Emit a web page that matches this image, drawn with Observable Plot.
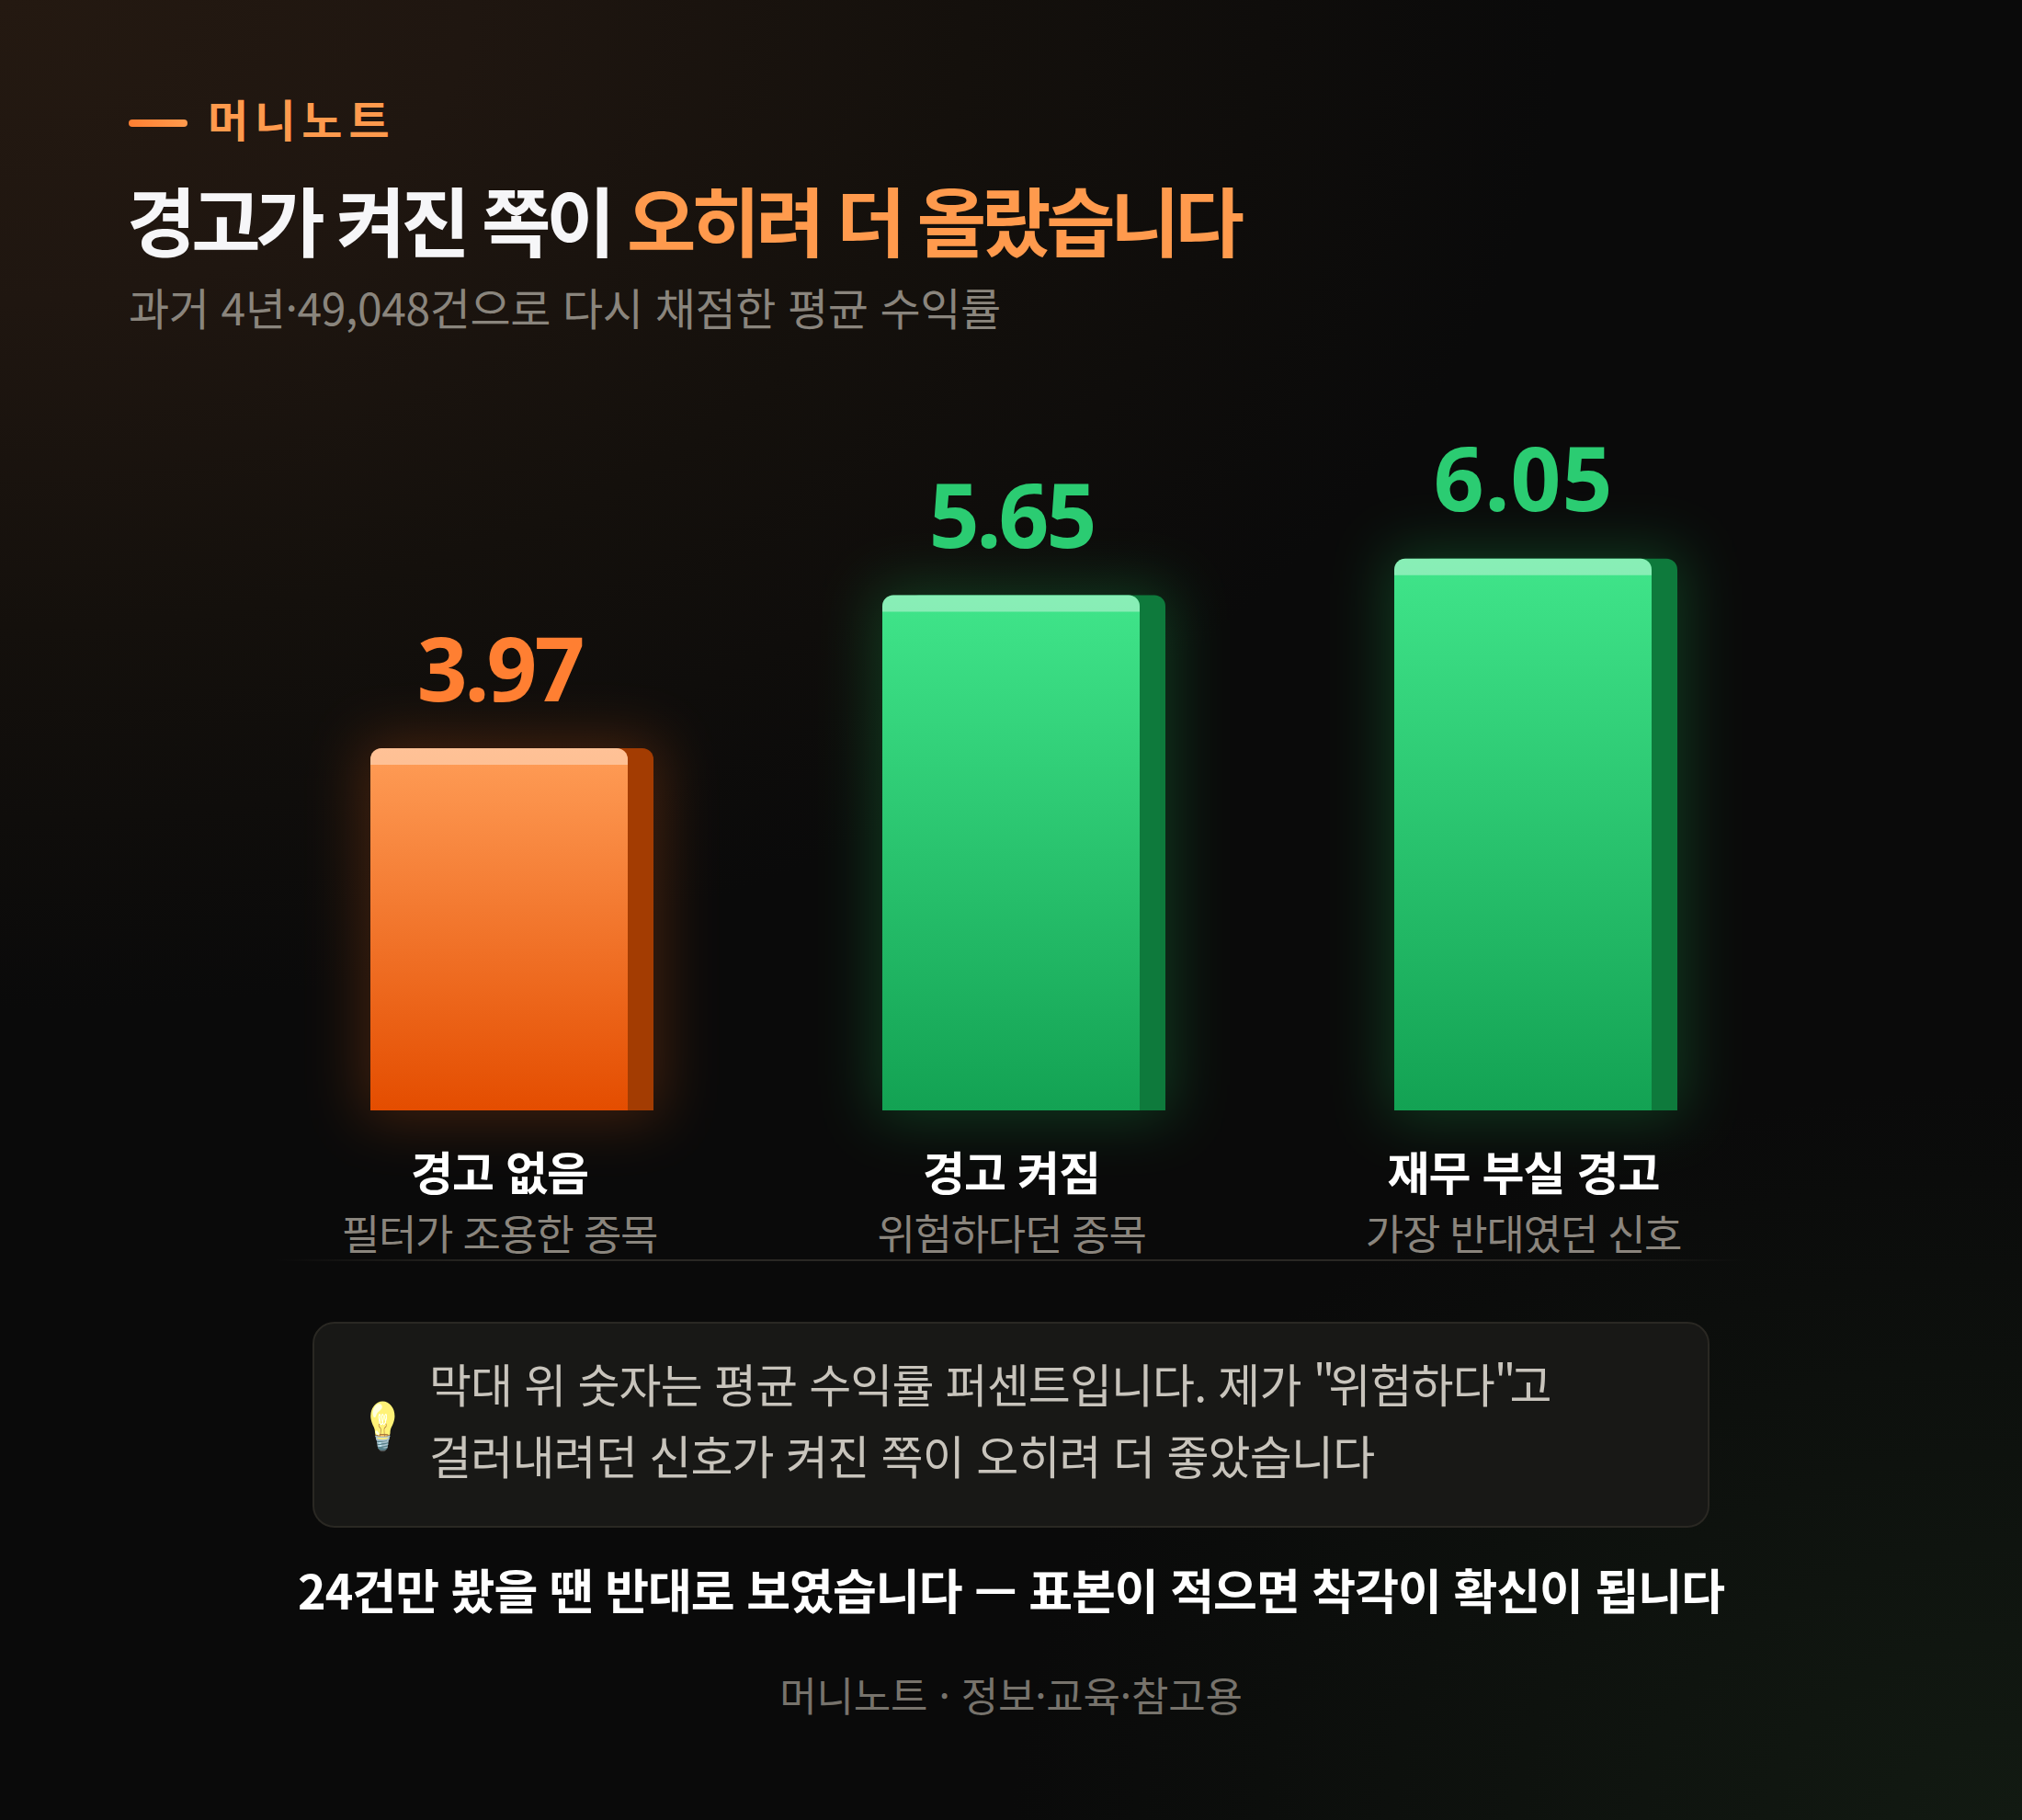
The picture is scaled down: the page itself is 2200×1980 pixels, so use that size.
<!DOCTYPE html>
<html lang="ko"><head><meta charset="utf-8">
<script src="https://cdn.jsdelivr.net/npm/d3@7"></script>
<script src="https://cdn.jsdelivr.net/npm/@observablehq/plot@0.6"></script>
<style>
html,body{margin:0;padding:0;background:#0a0a0a}
#page{position:relative;width:2200px;height:1980px;overflow:hidden;font-family:"Noto Sans CJK KR","Noto Sans",sans-serif;
background:radial-gradient(ellipse 1700px 1100px at 0px 0px,#241911 0%,#1f1610 30%,#14100c 62%,rgba(10,10,10,0) 100%),radial-gradient(ellipse 1100px 800px at 2200px 1980px,#121a12 0%,rgba(10,10,10,0) 100%),#0a0a0a}
.t{position:absolute;white-space:nowrap;line-height:1}
#chart{position:absolute;left:0;top:440px}
#chart svg{overflow:visible;background:transparent;display:block}
.q{letter-spacing:-7px}
</style></head><body><div id="page">
<div class="t" style="left:140px;top:130px;width:64px;height:8px;border-radius:4px;background:linear-gradient(90deg,#ff7f32,#ff9a4d)"></div>
<div class="t" style="left:226px;top:104px;font-size:48px;font-weight:700;letter-spacing:7px;color:#ff9a4d">머니노트</div>
<div class="t" style="left:138px;top:197px;font-size:82px;font-weight:700;letter-spacing:-5.3px;color:#f6f6f8">경고가 켜진 쪽이 <span style="color:#ff9a4d">오히려 더 올랐습니다</span></div>
<div class="t" style="left:140px;top:309px;font-size:48px;font-weight:400;letter-spacing:-.4px;color:#8a857d">과거 4년·49,048건으로 다시 채점한 평균 수익률</div>
<div id="chart"></div>
<div class="t" style="left:300px;top:1370px;width:1600px;height:2px;background:linear-gradient(90deg,rgba(42,40,36,0),#2a2824 15%,#2a2824 85%,rgba(42,40,36,0))"></div>
<div class="t" style="left:340px;top:1438px;width:1520px;height:224px;box-sizing:border-box;border:2px solid #2a2823;border-radius:24px;background:#181816"></div>
<div class="t" style="left:385px;top:1518px;font-size:50px;line-height:58px;transform:scaleX(.75);filter:saturate(.5) brightness(1.15)">💡</div>
<div class="t" style="left:467px;top:1479px;font-size:50px;letter-spacing:-.9px;color:#c8c4bc">막대 위 숫자는 평균 수익률 퍼센트입니다. 제가 <span class="q">"</span>위험하다<span class="q">"</span>고</div>
<div class="t" style="left:467px;top:1557px;font-size:50px;letter-spacing:-.8px;color:#c8c4bc">걸러내려던 신호가 켜진 쪽이 오히려 더 좋았습니다</div>
<div class="t" style="left:0;width:2200px;text-align:center;top:1703px;font-size:52px;font-weight:700;letter-spacing:-1px;color:#fff">24건만 봤을 땐 반대로 보였습니다 — 표본이 적으면 착각이 확신이 됩니다</div>
<div class="t" style="left:0;width:2200px;text-align:center;top:1821px;font-size:44px;letter-spacing:-.2px;color:#77736c">머니노트 · 정보·교육·참고용</div>
</div>
<script>
const categories = ["경고 없음", "경고 켜짐", "재무 부실 경고"];
const notes = ["필터가 조용한 종목", "위험하다던 종목", "가장 반대였던 신호"];
const values = [3.97, 5.65, 6.05];
const labelColors = ["#ff7f32", "#2bcc72", "#2bcc72"];
const sideColors = ["#a33c02", "#0e7a3c", "#0e7a3c"];
const glowColors = ["#e8641a", "#22c55e", "#22c55e"];
const fronts = ["url(#gradOrange)", "url(#gradGreen)", "url(#gradGreen)"];
const rows = categories.map((name, i) => ({name, note: notes[i], value: values[i], label: labelColors[i], side: sideColors[i], glow: glowColors[i], front: fronts[i]}));

const defs = () => {
  const ns = "http://www.w3.org/2000/svg";
  const d = document.createElementNS(ns, "defs");
  d.innerHTML = `<linearGradient id="gradOrange" x1="0" y1="0" x2="0" y2="1"><stop offset="0" stop-color="#ff9d57"/><stop offset="1" stop-color="#e44d00"/></linearGradient>
  <linearGradient id="gradGreen" x1="0" y1="0" x2="0" y2="1"><stop offset="0" stop-color="#40e58a"/><stop offset="1" stop-color="#13a253"/></linearGradient>`;
  return d;
};
const base = {x: "name", y: "value"};
const plot = Plot.plot({
  width: 2200, height: 930, marginTop: 0, marginBottom: 162, marginLeft: 403, marginRight: 403,
  x: {domain: categories, paddingInner: 0.4973, paddingOuter: 0, axis: null, round: false},
  y: {domain: [0, 7.74], axis: null},
  style: {background: "transparent", fontFamily: '"Noto Sans CJK KR","Noto Sans",sans-serif'},
  marks: [
    defs,
    Plot.barY(rows, {...base, fill: "glow", insetRight: -36, insetLeft: -8, insetTop: -8, insetBottom: -8, className: "glow"}),
    Plot.barY(rows, {...base, fill: "side", dx: 28, ry1: 12}),
    Plot.barY(rows, {...base, fill: "front", ry1: 12}),
    Plot.barY(rows, {x: "name", y1: "value", y2: "value", insetBottom: -18, fill: "#fff", fillOpacity: 0.38, ry1: 12}),
    Plot.text(rows, {x: "name", y: "value", text: d => d.value.toFixed(2), fill: "label", dy: -52, lineAnchor: "bottom", fontSize: 96, fontWeight: 700, fontFamily: '"Noto Sans","Noto Sans CJK KR",sans-serif', className: "val"}),
    Plot.text(rows, {x: "name", y: d => 0, text: "name", fill: "#fff", dy: 86, lineAnchor: "bottom", fontSize: 50, fontWeight: 700, className: "cat"}),
    Plot.text(rows, {x: "name", y: d => 0, text: "note", fill: "#8a857d", dy: 151, lineAnchor: "bottom", fontSize: 45, className: "note"})
  ]
});
document.getElementById("chart").appendChild(plot);
const s = document.createElement("style");
s.textContent = `.glow{filter:blur(32px);opacity:.26} .val text,.val{letter-spacing:-3px} .cat{letter-spacing:-1px} .note{letter-spacing:-1.3px}`;
document.head.appendChild(s);
d3.select(plot).selectAll(".val text").filter(function(){return this.textContent === "6.05";}).style("letter-spacing", "1px");
</script>
</body></html>
